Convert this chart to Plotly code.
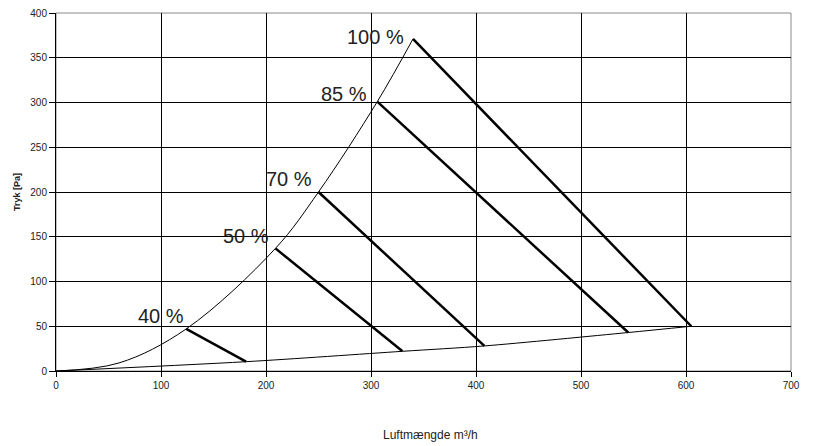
import plotly.graph_objects as go

# Upper system curve (max fan curve top points)
upper_x = [0, 60, 124, 209, 250, 306, 340]
upper_y = [0, 9, 47, 137, 200, 301, 371]

# Lower system curve
lower_x = [0, 181, 330, 408, 545, 605]
lower_y = [0, 10.4, 22, 28, 43, 50]

# Fan speed lines (start on upper curve, end on lower curve)
speed_labels = ["100 %", "85 %", "70 %", "50 %", "40 %"]
speed_start_x = [340, 306, 250, 209, 124]
speed_start_y = [371, 301, 200, 137, 47]
speed_end_x = [605, 545, 408, 330, 181]
speed_end_y = [50, 43, 28, 22, 10.4]
label_x = [304, 274, 222, 181, 100]
label_y = [373, 309, 215, 151, 61]

x_ticks = [0, 100, 200, 300, 400, 500, 600, 700]
y_ticks = [0, 50, 100, 150, 200, 250, 300, 350, 400]

FONT = "Liberation Sans, Arial, sans-serif"

fig = go.Figure()

fig.add_trace(go.Scatter(x=upper_x, y=upper_y, mode="lines",
                         line=dict(color="black", width=1, shape="spline", smoothing=1.0),
                         hoverinfo="skip", showlegend=False))
fig.add_trace(go.Scatter(x=lower_x, y=lower_y, mode="lines",
                         line=dict(color="black", width=1, shape="spline", smoothing=0.8),
                         hoverinfo="skip", showlegend=False))

for sx, sy, ex, ey in zip(speed_start_x, speed_start_y, speed_end_x, speed_end_y):
    fig.add_trace(go.Scatter(x=[sx, ex], y=[sy, ey], mode="lines",
                             line=dict(color="black", width=2.5),
                             hoverinfo="skip", showlegend=False))

for t, lx, ly in zip(speed_labels, label_x, label_y):
    fig.add_annotation(x=lx, y=ly, xref="x", yref="y", text=t, showarrow=False,
                       font=dict(family=FONT, size=20, color="#222222"),
                       xanchor="center", yanchor="middle")

fig.add_annotation(x=0.5, y=-0.179, xref="paper", yref="paper",
                   text="Luftmængde m³/h", showarrow=False,
                   font=dict(family=FONT, size=12, color="#222222"),
                   xanchor="center", yanchor="middle", xshift=7)
fig.add_annotation(x=0, y=0.5, xref="paper", yref="paper",
                   text="<b>Tryk [Pa]</b>", showarrow=False, textangle=-90,
                   font=dict(family=FONT, size=9, color="#222222"),
                   xanchor="center", yanchor="middle", xshift=-39)

# plot border (top/right gray)
fig.add_shape(type="rect", xref="paper", yref="paper", x0=0, y0=0, x1=1, y1=1,
              line=dict(color="#888888", width=1), layer="below")

fig.update_layout(
    width=813, height=446,
    margin=dict(l=48, r=30, t=5, b=83),
    plot_bgcolor="white", paper_bgcolor="white",
    font=dict(family=FONT, size=10, color="#222222"),
    xaxis=dict(range=[0, 700], tickvals=x_ticks, ticktext=[str(v) for v in x_ticks],
               showgrid=True, gridcolor="black", gridwidth=1,
               showline=True, linecolor="black", linewidth=1,
               ticks="outside", ticklen=5, tickcolor="black",
               zeroline=False, tickfont=dict(size=10), automargin=False,
               ticklabeloverflow="allow"),
    yaxis=dict(range=[0, 400], tickvals=y_ticks, ticktext=[str(v) for v in y_ticks],
               showgrid=True, gridcolor="black", gridwidth=1,
               showline=True, linecolor="black", linewidth=1,
               ticks="outside", ticklen=6, tickcolor="black",
               zeroline=False, tickfont=dict(size=10), automargin=False,
               ticklabeloverflow="allow"),
)

fig.write_html("out.html")
